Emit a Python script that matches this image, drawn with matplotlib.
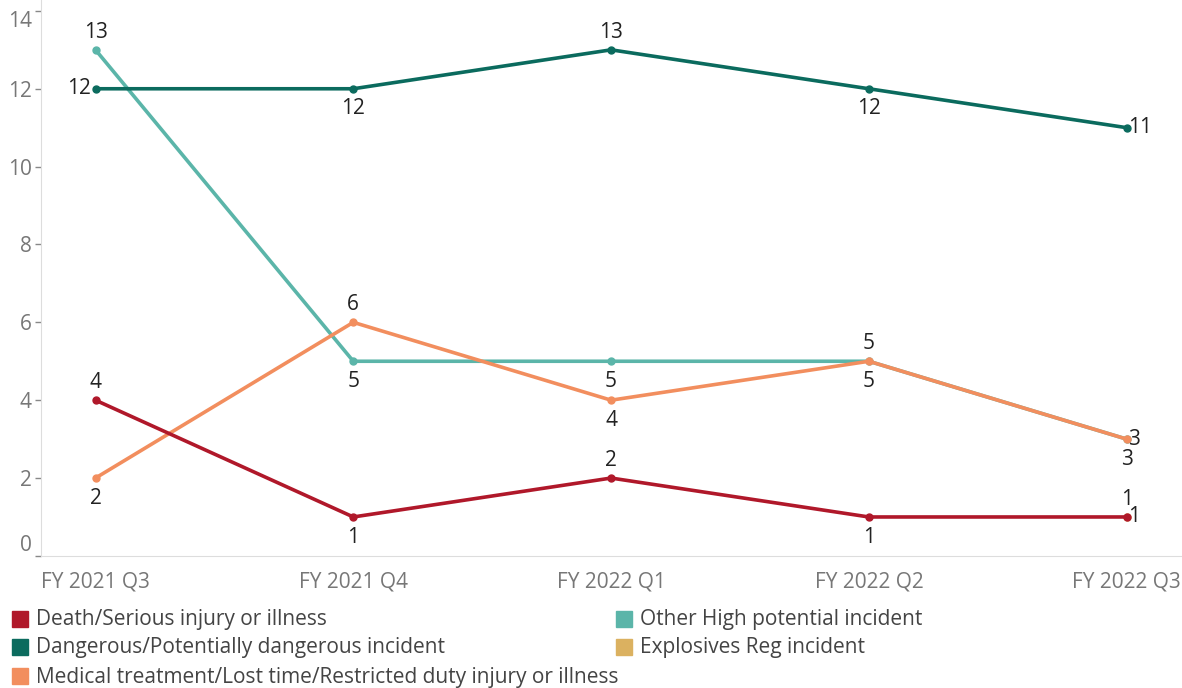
import numpy as np
import matplotlib.pyplot as plt
from matplotlib.patches import Rectangle

plt.rcParams['font.family'] = ['Open Sans', 'DejaVu Sans']

quarters = ['FY 2021 Q3', 'FY 2021 Q4', 'FY 2022 Q1', 'FY 2022 Q2', 'FY 2022 Q3']
death = [4, 1, 2, 1, 1]
dangerous = [12, 12, 13, 12, 11]
other_high = [13, 5, 5, 5, 3]
explosives = [np.nan, np.nan, np.nan, np.nan, 1]
medical = [2, 6, 4, 5, 3]

# label position per point: a=above, b=below, l=left, r=right
death_pos = ['a', 'b', 'a', 'b', 'r']
dangerous_pos = ['l', 'b', 'a', 'b', 'r']
other_pos = ['a', 'b', 'b', 'b', 'b']
explosives_pos = ['', '', '', '', 'a']
medical_pos = ['b', 'a', 'b', 'a', 'r']

series = [
    ('Other High potential incident', other_high, '#5bb5a9', other_pos),
    ('Explosives Reg incident', explosives, '#dbb160', explosives_pos),
    ('Medical treatment/Lost time/Restricted duty injury or illness', medical, '#f28e5e', medical_pos),
    ('Death/Serious injury or illness', death, '#b0182a', death_pos),
    ('Dangerous/Potentially dangerous incident', dangerous, '#0b6b5e', dangerous_pos),
]

fig = plt.figure(figsize=(11.82, 6.88), dpi=100)
ax = fig.add_axes([0.035, 0.192, 0.964, 0.808])
x = np.arange(len(quarters))

fs = 15
for name, vals, col, pos in series:
    ax.plot(x, vals, color=col, lw=2.6, marker='o', ms=5, zorder=3)
    for xi, v, p in zip(x, vals, pos):
        if np.isnan(v) or not p:
            continue
        if p == 'a':
            ax.annotate(str(int(v)), (xi, v), xytext=(0, 5), textcoords='offset points',
                        ha='center', va='bottom', fontsize=fs, color='#222222')
        elif p == 'b':
            ax.annotate(str(int(v)), (xi, v), xytext=(0, -7), textcoords='offset points',
                        ha='center', va='top', fontsize=fs, color='#222222')
        elif p == 'l':
            ax.annotate(str(int(v)), (xi, v), xytext=(-3, 0), textcoords='offset points',
                        ha='right', va='center', fontsize=fs, color='#222222')
        else:
            ax.annotate(str(int(v)), (xi, v), xytext=(1, 0), textcoords='offset points',
                        ha='left', va='center', fontsize=fs, color='#222222')

ax.set_xlim(-0.21, 4.21)
ax.set_ylim(0, 14.28)
ax.set_yticks([0, 2, 4, 6, 8, 10, 12, 14])
ax.set_xticks(x)
ax.set_xticklabels(quarters)
ax.tick_params(axis='y', colors='#888888', labelcolor='#777777', labelsize=fs, length=4, width=1, pad=3)
ax.tick_params(axis='x', length=0, labelcolor='#777777', labelsize=fs, pad=11)
ylabels = ax.get_yticklabels()
ylabels[-1].set_va('top')
ylabels[0].set_va('bottom')
for s in ['top', 'right']:
    ax.spines[s].set_visible(False)
ax.spines['left'].set_color('#dddddd')
ax.spines['bottom'].set_color('#dddddd')

# legend
legend_items = [
    ('Death/Serious injury or illness', '#b0182a', 12, 619),
    ('Dangerous/Potentially dangerous incident', '#0b6b5e', 12, 647),
    ('Medical treatment/Lost time/Restricted duty injury or illness', '#f28e5e', 12, 676),
    ('Other High potential incident', '#5bb5a9', 616, 619),
    ('Explosives Reg incident', '#dbb160', 616, 647),
]
W, H = 1182, 688
for label, col, px, py in legend_items:
    fig.patches.append(Rectangle((px / W, (H - py - 8) / H), 16 / W, 16 / H,
                                 transform=fig.transFigure, color=col))
    fig.text((px + 24) / W, (H - py - 1) / H, label, fontsize=fs, color='#444444', va='center')

fig.savefig('out.png', dpi=100)
